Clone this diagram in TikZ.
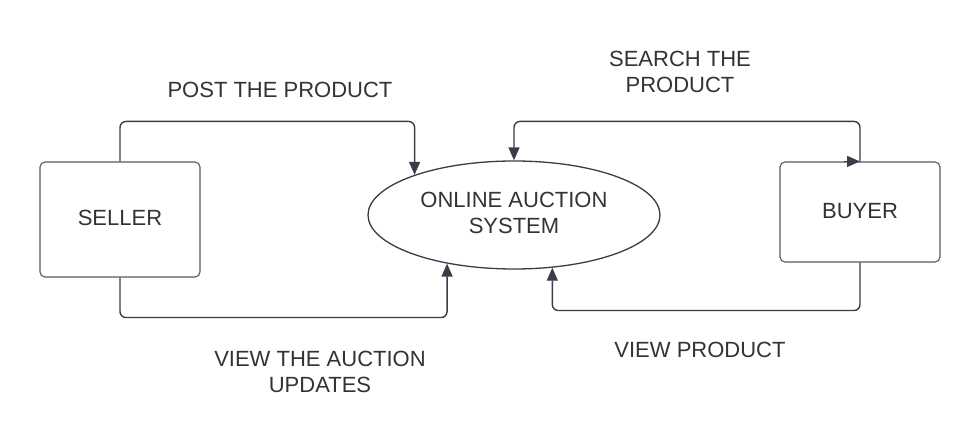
\documentclass[tikz,border=0pt]{standalone}
\usepackage{fontspec}
\setmainfont{Liberation Sans}
\usetikzlibrary{arrows.meta,shapes.geometric}
\definecolor{ln}{RGB}{58,60,72}
\definecolor{tx}{RGB}{51,51,51}
\tikzset{
  box/.style={draw=ln!85, line width=1.1pt, rounded corners=5pt, inner sep=0pt, text=tx},
  sysnode/.style={draw=ln, ellipse, line width=1.3pt, minimum width=292pt, minimum height=108pt, inner sep=0pt, text=tx, align=center},
  lbl/.style={text=tx, align=center, inner sep=0pt},
  conn/.style={draw=ln, line width=1.4pt, rounded corners=6pt, -{Triangle[length=13pt,width=11pt]}},
}
\begin{document}
\begin{tikzpicture}[x=1pt,y=-1pt,font=\fontsize{22}{26.5}\selectfont]
\useasboundingbox (0,0) rectangle (980,443);
\fill[white] (0,0) rectangle (980,443);
\node[box, minimum width=160pt, minimum height=115pt] (seller) at (120,219.5) {\raisebox{4pt}{SELLER}};
\node[box, minimum width=160pt, minimum height=100pt] (buyer) at (860,212) {\raisebox{3pt}{BUYER}};
\node[sysnode] (sys) at (514,215) {\raisebox{3pt}{\begin{tabular}{@{}c@{}}ONLINE AUCTION\\SYSTEM\end{tabular}}};
\node[lbl] (l1) at (280,90) {POST THE PRODUCT};
\node[lbl] (l2) at (680,72) {SEARCH THE\\PRODUCT};
\node[lbl] (l3) at (320,372) {VIEW THE AUCTION\\UPDATES};
\node[lbl] (l4) at (700,350) {VIEW PRODUCT};
\draw[conn] (seller.north) -- ++(0,-40) -| (sys.158.4);
\draw[conn] (seller.south) -- ++(0,40) -| (sys.216.6);
\draw[conn] (buyer.north) -- ++(0,-40) -| (sys.north);
\draw[conn,rounded corners=0pt] ([xshift=-16pt]buyer.north) -- (buyer.north);
\draw[conn] (buyer.south) -- ++(0,48) -| (sys.306.4);
\end{tikzpicture}
\end{document}
